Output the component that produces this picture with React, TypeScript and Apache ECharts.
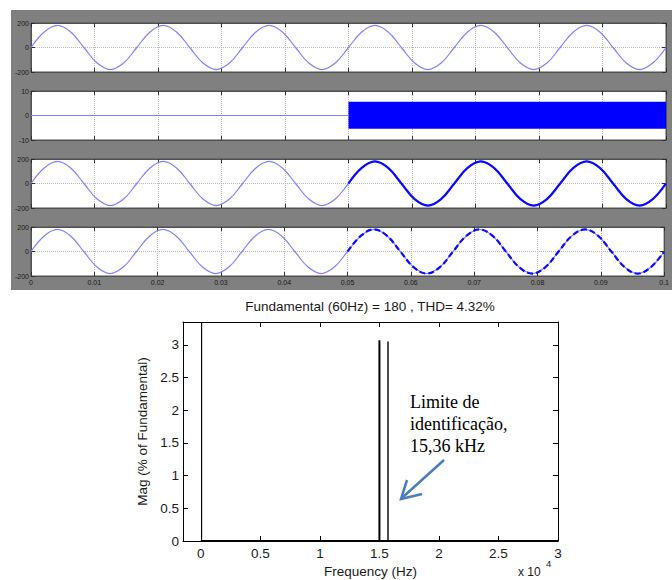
import React, { useEffect, useRef } from "react";
import * as echarts from "echarts";

// ---------- data ----------
// scope signals (60 Hz, read every 1/8 period)
const sineTimes = [
  0, 0.002083, 0.004167, 0.00625, 0.008333, 0.010417, 0.0125, 0.014583,
  0.016667, 0.01875, 0.020833, 0.022917, 0.025, 0.027083, 0.029167, 0.03125,
  0.033333, 0.035417, 0.0375, 0.039583, 0.041667, 0.04375, 0.045833, 0.047917,
  0.05, 0.052083, 0.054167, 0.05625, 0.058333, 0.060417, 0.0625, 0.064583,
  0.066667, 0.06875, 0.070833, 0.072917, 0.075, 0.077083, 0.079167, 0.08125,
  0.083333, 0.085417, 0.0875, 0.089583, 0.091667, 0.09375, 0.095833, 0.097917,
  0.1,
];
const sineVolts = [
  0, 127, 180, 127, 0, -127, -180, -127,
  0, 127, 180, 127, 0, -127, -180, -127,
  0, 127, 180, 127, 0, -127, -180, -127,
  0, 127, 180, 127, 0, -127, -180, -127,
  0, 127, 180, 127, 0, -127, -180, -127,
  0, 127, 180, 127, 0, -127, -180, -127,
  0,
];
const splitIndex = 24; // t = 0.05 s
const flatTimes = [0, 0.05];
const flatValues = [0, 0];
const bandTimes = [0.05, 0.1];
const bandHigh = 5.6;
const bandLow = -5.4;
const scopeRanges = [
  [-200, 200, 200],
  [-10, 10, 10],
  [-200, 200, 200],
  [-200, 200, 200],
];

// FFT
const fftTitle = "Fundamental (60Hz) = 180 , THD= 4.32%";
const harmonicFreqs = [60, 15000, 15720];
const harmonicMags = [100, 3.07, 3.05];
const baselineFreqs = [0, 30000];
const baselineMags = [0, 0];
const fftXTicks = [0, 5000, 10000, 15000, 20000, 25000, 30000];
const fftYTicks = [0, 0.5, 1, 1.5, 2, 2.5, 3];
const fftXMin = -1500;
const fftXMax = 30000;
const fftYMin = 0;
const fftYMax = 3.35;
const annotation = "Limite de\nidentificação,\n15,36 kHz";

// ---------- styles ----------
const LIGHT = "#8080ff";
const DARK = "#0a0aff";
const SANS = "'Liberation Sans', Arial, sans-serif";
const spikeWidths = [1.2, 2, 1.4];
const scopeTops = [23, 91, 159, 227];

export default function App() {
  const ref = useRef<HTMLDivElement>(null);

  useEffect(() => {
    if (!ref.current) return;
    const chart = echarts.init(ref.current, undefined, { renderer: "svg" });

    const grids: any[] = [];
    const xAxes: any[] = [];
    const yAxes: any[] = [];

    scopeTops.forEach((top, i) => {
      grids.push({
        left: 31,
        top,
        width: 635,
        height: 49,
        show: true,
        backgroundColor: "#ffffff",
        borderColor: "#505050",
        borderWidth: 1,
      });
      const [yMin, yMax, yStep] = scopeRanges[i];
      const tick = { show: true, inside: true, length: 4, lineStyle: { color: "#303030", width: 1 } };
      xAxes.push({
        type: "value",
        gridIndex: i,
        position: "bottom",
        min: 0,
        max: 0.1,
        interval: 0.01,
        axisLine: { show: true, onZero: false, lineStyle: { color: "#505050" } },
        axisTick: tick,
        axisLabel: {
          show: i === 3,
          fontSize: 7,
          color: "#1a1a1a",
          margin: 3,
          fontFamily: SANS,
          formatter: (v: number) => String(+v.toFixed(2)),
        },
        splitLine: {
          show: true,
          showMinLine: false,
          showMaxLine: false,
          lineStyle: { color: "#b8b8b8", type: "dotted", width: 1 },
        },
      });
      xAxes.push({
        type: "value",
        gridIndex: i,
        position: "top",
        min: 0,
        max: 0.1,
        interval: 0.01,
        axisLine: { show: true, onZero: false, lineStyle: { color: "#505050" } },
        axisTick: tick,
        axisLabel: { show: false },
        splitLine: { show: false },
      });
      yAxes.push({
        type: "value",
        gridIndex: i,
        position: "left",
        min: yMin,
        max: yMax,
        interval: yStep,
        axisLine: { show: true, onZero: false, lineStyle: { color: "#505050" } },
        axisTick: tick,
        axisLabel: { show: true, fontSize: 7, color: "#1a1a1a", margin: 2, fontFamily: SANS },
        splitLine: {
          show: true,
          showMinLine: false,
          showMaxLine: false,
          lineStyle: { color: "#b8b8b8", type: "dotted", width: 1 },
        },
      });
      yAxes.push({
        type: "value",
        gridIndex: i,
        position: "right",
        min: yMin,
        max: yMax,
        interval: yStep,
        axisLine: { show: true, onZero: false, lineStyle: { color: "#505050" } },
        axisTick: tick,
        axisLabel: { show: false },
        splitLine: { show: false },
      });
    });

    // FFT grid (index 4)
    grids.push({ left: 183, top: 322, width: 375, height: 219, show: false });
    const fftTick = { show: true, inside: true, length: 5, lineStyle: { color: "#000", width: 1 } };
    xAxes.push({
      type: "value",
      gridIndex: 4,
      position: "bottom",
      min: fftXMin,
      max: fftXMax,
      name: "Frequency (Hz)",
      nameLocation: "middle",
      nameGap: 23,
      nameTextStyle: { fontSize: 13.5, color: "#1a1a1a", fontFamily: SANS },
      axisLine: { show: true, onZero: false, lineStyle: { color: "#000", width: 1 } },
      axisTick: { ...fftTick, customValues: fftXTicks },
      axisLabel: {
        show: true,
        customValues: fftXTicks,
        fontSize: 13.5,
        color: "#1a1a1a",
        margin: 5,
        fontFamily: SANS,
        formatter: (v: number) => String(+(v / 10000).toFixed(2)),
      },
      splitLine: { show: false },
    });
    xAxes.push({
      type: "value",
      gridIndex: 4,
      position: "top",
      min: fftXMin,
      max: fftXMax,
      axisLine: { show: true, onZero: false, lineStyle: { color: "#000", width: 1 } },
      axisTick: { ...fftTick, customValues: fftXTicks },
      axisLabel: { show: false },
      splitLine: { show: false },
    });
    yAxes.push({
      type: "value",
      gridIndex: 4,
      position: "left",
      min: fftYMin,
      max: fftYMax,
      name: "Mag (% of Fundamental)",
      nameLocation: "middle",
      nameGap: 31,
      nameRotate: 90,
      nameTextStyle: { fontSize: 13.5, color: "#1a1a1a", fontFamily: SANS },
      axisLine: { show: true, onZero: false, lineStyle: { color: "#000", width: 1 } },
      axisTick: { ...fftTick, customValues: fftYTicks },
      axisLabel: {
        show: true,
        customValues: fftYTicks,
        fontSize: 13.5,
        color: "#1a1a1a",
        margin: 4,
        fontFamily: SANS,
        formatter: (v: number) => String(+v.toFixed(2)),
      },
      splitLine: { show: false },
    });
    yAxes.push({
      type: "value",
      gridIndex: 4,
      position: "right",
      min: fftYMin,
      max: fftYMax,
      axisLine: { show: true, onZero: false, lineStyle: { color: "#000", width: 1 } },
      axisTick: { ...fftTick, customValues: fftYTicks },
      axisLabel: { show: false },
      splitLine: { show: false },
    });

    const sinePts = sineTimes.map((t, k) => [t, sineVolts[k]]);
    const sineSecondHalf = sinePts.slice(splitIndex);
    const lineBase = { type: "line", showSymbol: false, symbol: "none", smooth: 0.4, silent: true };

    const series: any[] = [
      { ...lineBase, xAxisIndex: 0, yAxisIndex: 0, data: sinePts, lineStyle: { color: LIGHT, width: 1.2 } },
      {
        ...lineBase,
        smooth: false,
        xAxisIndex: 2,
        yAxisIndex: 2,
        data: flatTimes.map((t, k) => [t, flatValues[k]]),
        lineStyle: { color: LIGHT, width: 1.2 },
        markArea: {
          silent: true,
          itemStyle: { color: "#0000ff", opacity: 1 },
          label: { show: false },
          data: [[{ coord: [bandTimes[0], bandHigh] }, { coord: [bandTimes[1], bandLow] }]],
        },
      },
      { ...lineBase, xAxisIndex: 4, yAxisIndex: 4, data: sinePts, lineStyle: { color: LIGHT, width: 1.2 } },
      { ...lineBase, xAxisIndex: 4, yAxisIndex: 4, data: sineSecondHalf, lineStyle: { color: DARK, width: 2.2 } },
      { ...lineBase, xAxisIndex: 6, yAxisIndex: 6, data: sinePts, lineStyle: { color: LIGHT, width: 1.2 } },
      {
        ...lineBase,
        xAxisIndex: 6,
        yAxisIndex: 6,
        data: sineSecondHalf,
        lineStyle: { color: DARK, width: 2.2, type: [6, 3] },
      },
      {
        type: "line",
        xAxisIndex: 8,
        yAxisIndex: 8,
        showSymbol: false,
        symbol: "none",
        silent: true,
        clip: false,
        z: 5,
        data: baselineFreqs.map((f, k) => [f, baselineMags[k]]),
        lineStyle: { color: "#000", width: 2.2 },
      },
      {
        type: "custom",
        coordinateSystem: "cartesian2d",
        xAxisIndex: 8,
        yAxisIndex: 8,
        silent: true,
        z: 4,
        data: harmonicFreqs.map((f, k) => [f, harmonicMags[k]]),
        renderItem: (params: any, api: any) => {
          const f = api.value(0);
          const m = api.value(1);
          const p0 = api.coord([f, 0]);
          const p1 = api.coord([f, Math.min(m, fftYMax)]);
          return {
            type: "line",
            shape: { x1: p0[0], y1: p0[1], x2: p1[0], y2: p1[1] },
            style: { stroke: "#000", lineWidth: spikeWidths[params.dataIndex] },
          };
        },
      },
    ];

    const option: any = {
      animation: false,
      backgroundColor: "#ffffff",
      textStyle: { fontFamily: SANS },
      grid: grids,
      xAxis: xAxes,
      yAxis: yAxes,
      series,
      graphic: [
        {
          type: "rect",
          z: -100,
          silent: true,
          shape: { x: 11, y: 10, width: 661, height: 280 },
          style: { fill: "#808080" },
        },
        {
          type: "text",
          silent: true,
          x: 370,
          y: 299,
          style: {
            text: fftTitle,
            fontSize: 13.5,
            fontFamily: SANS,
            fill: "#1a1a1a",
            textAlign: "center",
          },
        },
        {
          type: "text",
          silent: true,
          x: 410,
          y: 391,
          style: {
            text: annotation,
            fontSize: 18,
            lineHeight: 22,
            fontFamily: "'Liberation Serif', 'Times New Roman', serif",
            fill: "#000",
          },
        },
        {
          type: "line",
          silent: true,
          shape: { x1: 444, y1: 460, x2: 403, y2: 497 },
          style: { stroke: "#4a7ebb", lineWidth: 2.5 },
        },
        {
          type: "polyline",
          silent: true,
          shape: { points: [[407, 480], [401, 499], [422, 494]] },
          style: { stroke: "#4a7ebb", lineWidth: 2.5, fill: "none" },
        },
        {
          type: "text",
          silent: true,
          x: 518,
          y: 566,
          style: { text: "x 10", fontSize: 12, fontFamily: SANS, fill: "#1a1a1a" },
        },
        {
          type: "text",
          silent: true,
          x: 546,
          y: 558,
          style: { text: "4", fontSize: 9.5, fontFamily: SANS, fill: "#1a1a1a" },
        },
      ],
    };

    chart.setOption(option);
    return () => chart.dispose();
  }, []);

  return (
    <div
      ref={ref}
      style={{ position: "fixed", left: 0, top: 0, width: 672, height: 580 }}
    />
  );
}
